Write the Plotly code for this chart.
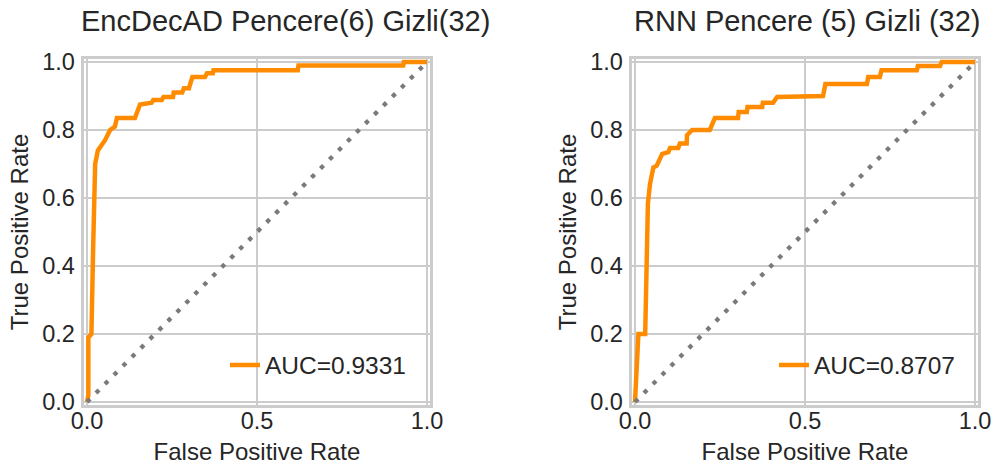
import plotly.graph_objects as go

# ---- data ----
fpr_enc = [0.0, 0.004, 0.004, 0.013, 0.018, 0.020, 0.024, 0.032, 0.040, 0.053, 0.068, 0.082, 0.088,
           0.141, 0.156, 0.190, 0.195, 0.220, 0.225, 0.253, 0.255, 0.280, 0.285, 0.300, 0.305, 0.310,
           0.347, 0.353, 0.370, 0.372, 0.620, 0.622, 0.930, 0.932, 1.0]
tpr_enc = [0.0, 0.02, 0.19, 0.20, 0.45, 0.60, 0.70, 0.74, 0.75, 0.77, 0.80, 0.81, 0.835,
           0.835, 0.875, 0.88, 0.888, 0.888, 0.897, 0.897, 0.91, 0.91, 0.923, 0.923, 0.94, 0.956,
           0.956, 0.967, 0.967, 0.976, 0.976, 0.99, 0.99, 1.0, 1.0]

fpr_rnn = [0.0, 0.006, 0.010, 0.030, 0.036, 0.038, 0.044, 0.054, 0.064, 0.080, 0.098, 0.103, 0.127,
           0.132, 0.152, 0.153, 0.168, 0.220, 0.235, 0.303, 0.305, 0.329, 0.331, 0.374, 0.376, 0.406,
           0.418, 0.553, 0.560, 0.682, 0.686, 0.720, 0.725, 0.829, 0.832, 0.897, 0.902, 1.0]
tpr_rnn = [0.0, 0.094, 0.20, 0.20, 0.45, 0.585, 0.64, 0.69, 0.695, 0.73, 0.735, 0.747, 0.747,
           0.76, 0.76, 0.785, 0.80, 0.80, 0.835, 0.835, 0.853, 0.853, 0.868, 0.868, 0.88, 0.88,
           0.897, 0.90, 0.935, 0.935, 0.956, 0.956, 0.976, 0.976, 0.988, 0.988, 1.0, 1.0]

diag = [0.0, 1.0]
titles = ["EncDecAD Pencere(6) Gizli(32)", "RNN Pencere (5) Gizli (32)"]
auc_labels = ["AUC=0.9331", "AUC=0.8707"]
tick_vals_x = [0.0, 0.5, 1.0]
tick_text_x = ["0.0", "0.5", "1.0"]
tick_vals_y = [0.0, 0.2, 0.4, 0.6, 0.8, 1.0]
tick_text_y = ["0.0", "0.2", "0.4", "0.6", "0.8", "1.0"]

# the page body margin is removed (see post_script), so the figure fills the window
W, H = 999, 468
FONT = "Liberation Sans, Arial, sans-serif"
TXT = "#262626"
ORANGE = "#ff8c00"
GRID = "#cccccc"

fig = go.Figure()
fig.add_trace(go.Scatter(x=fpr_enc, y=tpr_enc, mode="lines", name=auc_labels[0],
                         line=dict(color=ORANGE, width=4.5), xaxis="x", yaxis="y", legend="legend"))
fig.add_trace(go.Scatter(x=diag, y=diag, mode="lines", showlegend=False,
                         line=dict(color="#7a7a7a", width=4.3, dash="4.3px,8.4px"), xaxis="x", yaxis="y"))
fig.add_trace(go.Scatter(x=fpr_rnn, y=tpr_rnn, mode="lines", name=auc_labels[1],
                         line=dict(color=ORANGE, width=4.5), xaxis="x2", yaxis="y2", legend="legend2"))
fig.add_trace(go.Scatter(x=diag, y=diag, mode="lines", showlegend=False,
                         line=dict(color="#7a7a7a", width=4.3, dash="4.3px,8.4px"), xaxis="x2", yaxis="y2"))


def px_x(p):
    return p / W


def px_y(p):
    return 1 - p / H


top, bottom = 58.6, 405.4
dom_y = [px_y(bottom), px_y(top)]
dom_x1 = [px_x(83.6), px_x(430.4)]
dom_x2 = [px_x(631.6), px_x(978.4)]

common_axis = dict(
    range=[-0.01, 1.01], showgrid=True, gridcolor=GRID, gridwidth=2.2,
    showline=True, linecolor=GRID, linewidth=3, mirror=True, zeroline=False,
    ticks="", ticklen=0, tickfont=dict(family=FONT, size=23.5, color=TXT), automargin=False,
)

xaxis_common = dict(common_axis, tickvals=tick_vals_x, ticktext=tick_text_x,
                    title=dict(text="False Positive Rate", font=dict(family=FONT, size=24, color=TXT),
                               standoff=11),
                    ticklabelstandoff=-8)
yaxis_common = dict(common_axis, tickvals=tick_vals_y, ticktext=tick_text_y,
                    title=dict(text="True Positive Rate", font=dict(family=FONT, size=24, color=TXT),
                               standoff=7),
                    ticklabelstandoff=1)

fig.update_layout(
    width=W, height=H,
    margin=dict(l=0, r=0, t=0, b=0),
    paper_bgcolor="white", plot_bgcolor="white",
    font=dict(family=FONT, color=TXT),
    xaxis=dict(xaxis_common, domain=dom_x1, anchor="y"),
    yaxis=dict(yaxis_common, domain=dom_y, anchor="x"),
    xaxis2=dict(xaxis_common, domain=dom_x2, anchor="y2"),
    yaxis2=dict(yaxis_common, domain=dom_y, anchor="x2"),
    legend=dict(x=px_x(225), y=px_y(365), xanchor="left", yanchor="middle",
                bgcolor="rgba(0,0,0,0)", font=dict(family=FONT, size=24.5, color=TXT)),
    legend2=dict(x=px_x(774), y=px_y(365), xanchor="left", yanchor="middle",
                 bgcolor="rgba(0,0,0,0)", font=dict(family=FONT, size=24.5, color=TXT)),
    annotations=[
        dict(text=titles[0], x=px_x(285), y=px_y(21), xref="paper", yref="paper",
             xanchor="center", yanchor="middle", showarrow=False,
             font=dict(family=FONT, size=29, color=TXT)),
        dict(text=titles[1], x=px_x(807), y=px_y(21), xref="paper", yref="paper",
             xanchor="center", yanchor="middle", showarrow=False,
             font=dict(family=FONT, size=29, color=TXT)),
    ],
)

fig.write_html("out.html", config={"displayModeBar": False},
               post_script="document.body.style.margin='0px';")
